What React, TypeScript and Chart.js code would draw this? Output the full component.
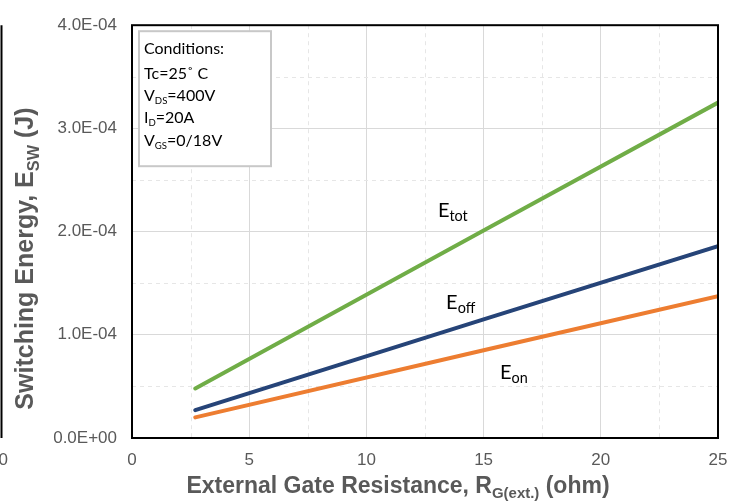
import React, { useEffect, useRef } from "react";
import { Chart, registerables } from "chart.js";

Chart.register(...registerables);

// ---- data ----
const rgOhm = [2.7, 15, 25];
const eTot = [0.48e-4, 2.01e-4, 3.25e-4];
const eOff = [0.27e-4, 1.15e-4, 1.86e-4];
const eOn = [0.2e-4, 0.85e-4, 1.375e-4];

const xTicks = [0, 5, 10, 15, 20, 25];
const yTicks = [0, 1e-4, 2e-4, 3e-4, 4e-4];
const xMinor = [2.5, 7.5, 12.5, 17.5, 22.5];
const yMinor = [0.5e-4, 1.5e-4, 2.5e-4, 3.5e-4];

const seriesNames = ["Etot", "Eoff", "Eon"];
const seriesColors = ["#70AD47", "#264478", "#ED7D31"];

// curve labels: [main, sub, x, y]
const labelMain = ["E", "E", "E"];
const labelSub = ["tot", "off", "on"];
const labelX = [13.05, 13.4, 15.7];
const labelY = [2.14e-4, 1.25e-4, 0.567e-4];

// conditions box lines: [main, sub, rest]
const condLines: string[][] = [
  ["Conditions:", "", ""],
  ["Tc=25˚ C", "", ""],
  ["V", "DS", "=400V"],
  ["I", "D", "=20A"],
  ["V", "GS", "=0/18V"],
];

const yTitleParts = [
  { t: "Switching Energy, E", sub: false },
  { t: "SW", sub: true },
  { t: " (J)", sub: false },
];
const xTitleParts = [
  { t: "External Gate Resistance, R", sub: false },
  { t: "G(ext.)", sub: true },
  { t: " (ohm)", sub: false },
];

const GRAY = "#595959";
const TICK_FONT = "'Liberation Sans', Arial, sans-serif";
const CAL_FONT = "Lato, 'Noto Sans', sans-serif";

function fmtSci(v: number): string {
  if (Math.abs(v) < 1e-12) return "0.0E+00";
  const s = v.toExponential(1).toUpperCase(); // e.g. 4.0E-4
  const [m, e] = s.split("E");
  const sign = e[0] === "-" ? "-" : "+";
  const digits = e.replace(/[+-]/, "").padStart(2, "0");
  return `${m}E${sign}${digits}`;
}

type Part = { t: string; sub: boolean };

function richWidth(ctx: CanvasRenderingContext2D, parts: Part[], size: number, family: string, weight: string, subScale: number) {
  let w = 0;
  for (const p of parts) {
    const s = p.sub ? size * subScale : size;
    ctx.font = `${weight} ${s}px ${family}`;
    w += ctx.measureText(p.t).width;
  }
  return w;
}

function drawRich(
  ctx: CanvasRenderingContext2D,
  parts: Part[],
  x: number,
  y: number,
  size: number,
  family: string,
  weight: string,
  color: string,
  subScale = 0.62,
  subDrop = 0.22
) {
  ctx.fillStyle = color;
  ctx.textBaseline = "alphabetic";
  ctx.textAlign = "left";
  let cx = x;
  for (const p of parts) {
    const s = p.sub ? size * subScale : size;
    ctx.font = `${weight} ${s}px ${family}`;
    ctx.fillText(p.t, cx, p.sub ? y + size * subDrop : y);
    cx += ctx.measureText(p.t).width;
  }
}

const decorPlugin = {
  id: "decor",
  beforeDatasetsDraw(chart: any) {
    const { ctx, chartArea: a, scales } = chart;
    const xs = scales.x;
    const ys = scales.y;
    ctx.save();
    ctx.strokeStyle = "#e6e6e6";
    ctx.lineWidth = 1;
    ctx.setLineDash([4, 4]);
    for (const v of xMinor) {
      const px = Math.round(xs.getPixelForValue(v)) + 0.5;
      ctx.beginPath();
      ctx.moveTo(px, a.top);
      ctx.lineTo(px, a.bottom);
      ctx.stroke();
    }
    for (const v of yMinor) {
      const py = Math.round(ys.getPixelForValue(v)) + 0.5;
      ctx.beginPath();
      ctx.moveTo(a.left, py);
      ctx.lineTo(a.right, py);
      ctx.stroke();
    }
    ctx.restore();
  },
  afterDatasetsDraw(chart: any) {
    const { ctx, chartArea: a, scales } = chart;
    const xs = scales.x;
    const ys = scales.y;
    ctx.save();
    // plot frame
    ctx.strokeStyle = "#000";
    ctx.lineWidth = 2;
    ctx.strokeRect(a.left, a.top, a.right - a.left, a.bottom - a.top);

    // curve labels
    for (let i = 0; i < labelMain.length; i++) {
      const px = xs.getPixelForValue(labelX[i]);
      const py = ys.getPixelForValue(labelY[i]);
      drawRich(
        ctx,
        [
          { t: labelMain[i], sub: false },
          { t: labelSub[i], sub: true },
        ],
        px,
        py,
        20,
        CAL_FONT,
        "normal",
        "#000",
        0.72,
        0.2
      );
    }

    // conditions box
    const bx = a.left + 7;
    const by = a.top + 6;
    const bw = 132;
    const bh = 135;
    ctx.fillStyle = "#fff";
    ctx.fillRect(bx, by, bw, bh);
    ctx.strokeStyle = "#c8c8c8";
    ctx.lineWidth = 2;
    ctx.strokeRect(bx, by, bw, bh);
    const baselines = [23, 48, 70, 92, 115];
    condLines.forEach((ln, i) => {
      const parts: Part[] = [];
      if (ln[0]) parts.push({ t: ln[0], sub: false });
      if (ln[1]) parts.push({ t: ln[1], sub: true });
      if (ln[2]) parts.push({ t: ln[2], sub: false });
      drawRich(ctx, parts, bx + 5, by + baselines[i], 16, CAL_FONT, "normal", "#000", 0.6, 0.18);
    });
    ctx.restore();
  },
  afterDraw(chart: any) {
    const { ctx, chartArea: a } = chart;
    ctx.save();
    // neighbouring chart edge (cropped)
    ctx.strokeStyle = "#000";
    ctx.lineWidth = 2;
    ctx.beginPath();
    ctx.moveTo(1.5, a.top);
    ctx.lineTo(1.5, a.bottom);
    ctx.stroke();
    ctx.fillStyle = GRAY;
    ctx.font = `17px ${TICK_FONT}`;
    ctx.textAlign = "right";
    ctx.textBaseline = "middle";
    ctx.fillText("50", 8, a.bottom + 22);

    // y title
    const ySize = 25;
    const yw = richWidth(ctx, yTitleParts, ySize, TICK_FONT, "bold", 0.65);
    ctx.save();
    ctx.translate(33, (a.top + a.bottom) / 2 + 27);
    ctx.rotate(-Math.PI / 2);
    drawRich(ctx, yTitleParts, -yw / 2, 0, ySize, TICK_FONT, "bold", GRAY, 0.65, 0.22);
    ctx.restore();

    // x title
    const xSize = 23;
    const xw = richWidth(ctx, xTitleParts, xSize, TICK_FONT, "bold", 0.65);
    drawRich(ctx, xTitleParts, (a.left + a.right) / 2 - 27 - xw / 2, a.bottom + 55, xSize, TICK_FONT, "bold", GRAY, 0.65, 0.22);
    ctx.restore();
  },
};

export default function App() {
  const ref = useRef<HTMLCanvasElement | null>(null);

  useEffect(() => {
    document.body.style.margin = "0";
    const canvas = ref.current;
    if (!canvas) return;
    const mk = (vals: number[]) => rgOhm.map((x, i) => ({ x, y: vals[i] }));
    const chart = new Chart(canvas, {
      type: "line",
      data: {
        datasets: [eTot, eOff, eOn].map((vals, i) => ({
          label: seriesNames[i],
          data: mk(vals),
          borderColor: seriesColors[i],
          backgroundColor: seriesColors[i],
          borderWidth: 4,
          borderCapStyle: "round" as const,
          pointRadius: 0,
          tension: 0,
          fill: false,
        })),
      },
      options: {
        animation: false,
        responsive: false,
        devicePixelRatio: 1,
        layout: { padding: { top: 22, right: 29, left: 0, bottom: 0 } },
        plugins: {
          legend: { display: false },
          tooltip: { enabled: false },
          title: { display: false },
        },
        scales: {
          x: {
            type: "linear",
            min: 0,
            max: 25,
            afterBuildTicks: (s: any) => {
              s.ticks = xTicks.map((v) => ({ value: v }));
            },
            afterFit: (s: any) => {
              s.height = 66;
            },
            grid: { color: "#d9d9d9", lineWidth: 1, drawTicks: false },
            border: { display: false },
            ticks: {
              padding: 12,
              color: GRAY,
              font: { family: TICK_FONT, size: 17 },
              maxRotation: 0,
              callback: (v: any) => String(v),
            },
          },
          y: {
            type: "linear",
            min: 0,
            max: 4e-4,
            afterBuildTicks: (s: any) => {
              s.ticks = yTicks.map((v) => ({ value: v }));
            },
            afterFit: (s: any) => {
              s.width = 132;
            },
            grid: { color: "#d9d9d9", lineWidth: 1, drawTicks: false },
            border: { display: false },
            ticks: {
              padding: 15,
              color: GRAY,
              font: { family: TICK_FONT, size: 17 },
              callback: (v: any) => fmtSci(Number(v)),
            },
          },
        },
      },
      plugins: [decorPlugin],
    } as any);
    return () => chart.destroy();
  }, []);

  return (
    <div style={{ width: 747, height: 504, background: "#fff" }}>
      <canvas ref={ref} width={747} height={504} style={{ display: "block" }} />
    </div>
  );
}
